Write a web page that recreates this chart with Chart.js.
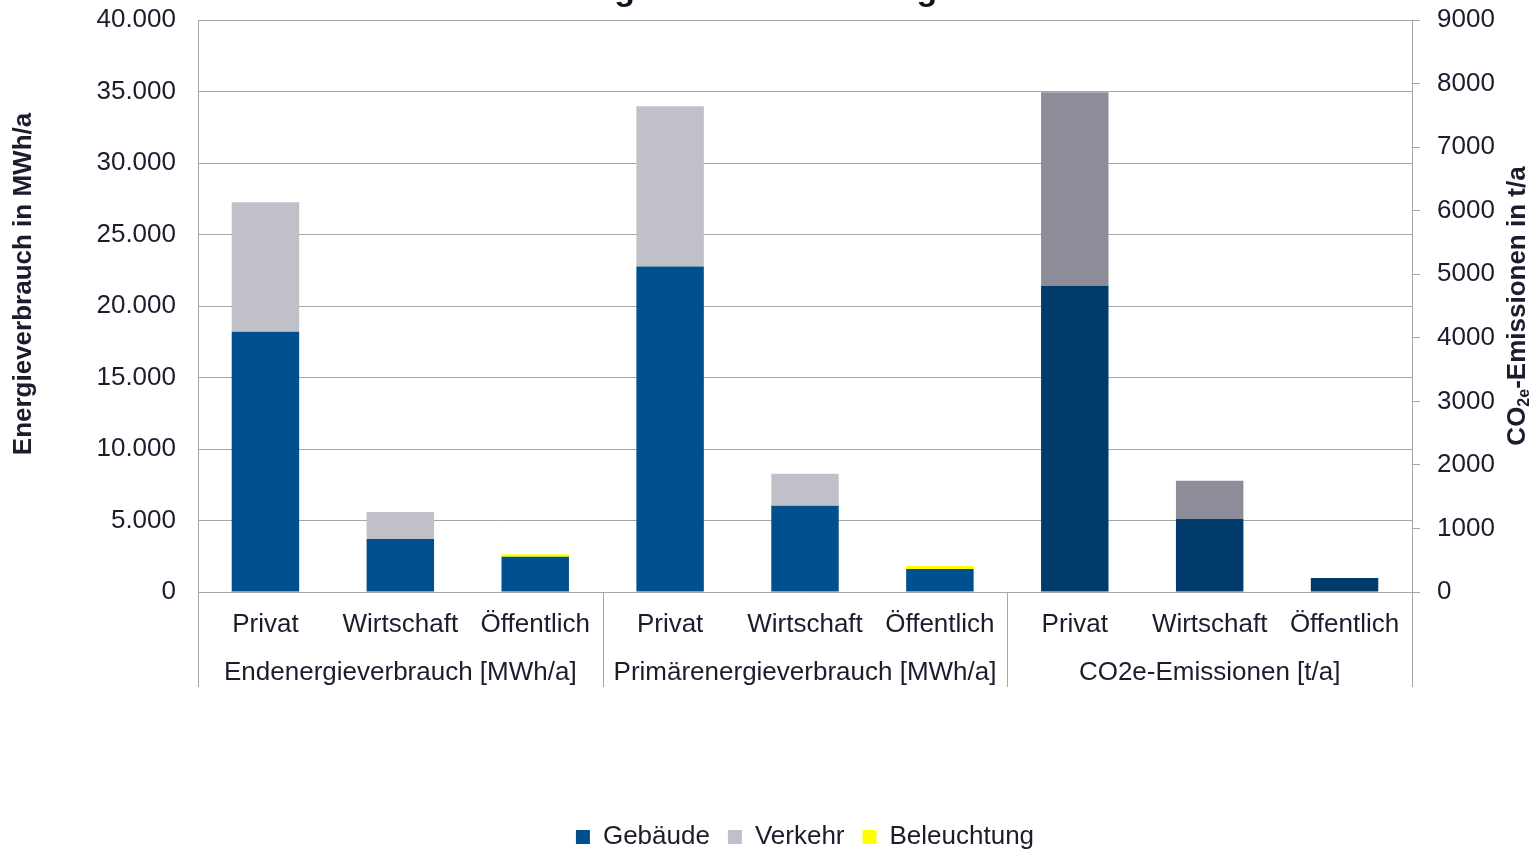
<!DOCTYPE html>
<html>
<head>
<meta charset="utf-8">
<script src="https://cdn.jsdelivr.net/npm/chart.js@4"></script>
<style>
    html, body { margin: 0; padding: 0; overflow: hidden; background: #fff; }
    #wrap { position: absolute; left: 0; top: -40px; width: 1536px; height: 930px; }
</style>
</head>
<body>
<div id="wrap"><canvas id="energyChart"></canvas></div>
<script>
// sub-categories and groups on the x axis
const categories = ['Privat', 'Wirtschaft', 'Öffentlich', 'Privat', 'Wirtschaft', 'Öffentlich', 'Privat', 'Wirtschaft', 'Öffentlich'];
const groups = ['Endenergieverbrauch [MWh/a]', 'Primärenergieverbrauch [MWh/a]', 'CO2e-Emissionen [t/a]'];

// energy values in MWh/a (left axis)
const gebaeudeEnergie = [18200, 3700, 2470, 22770, 6030, 1610, null, null, null];
const verkehrEnergie = [9050, 1900, 0, 11200, 2240, 0, null, null, null];
const beleuchtungEnergie = [0, 0, 170, 0, 0, 210, null, null, null];

// emissions in t/a (right axis)
const gebaeudeCO2 = [null, null, null, null, null, null, 4820, 1150, 220];
const verkehrCO2 = [null, null, null, null, null, null, 3045, 600, 0];
const beleuchtungCO2 = [null, null, null, null, null, null, 0, 0, 0];

const leftTicks = { min: 0, max: 40000, step: 5000 };
const rightTicks = { min: 0, max: 9000, step: 1000 };

const textColor = '#1c1c2c';
const gridColor = '#a6a6a6';
const fontFamily = "'Liberation Sans', Arial, sans-serif";

Chart.defaults.color = textColor;
Chart.defaults.font.family = fontFamily;

// darker shades for the CO2 bars
const pick = (light, dark) => (ctx) => (ctx.dataIndex >= 6 ? dark : light);
const blue = pick('#00508f', '#003b6b');
const grey = pick('#bfc0c8', '#8d8d99');
const yellow = '#ffff00';

// separator lines below the plot and both axis titles (bottom to top)
const extras = {
    id: 'extras',
    afterDraw(chart) {
        const { ctx, chartArea, scales } = chart;
        ctx.save();
        ctx.strokeStyle = gridColor;
        ctx.lineWidth = 1;
        [-0.5, 2.5, 5.5, 8.5].forEach((v) => {
            const px = Math.round(scales.x.getPixelForValue(v)) + 0.5;
            ctx.beginPath();
            ctx.moveTo(px, chartArea.bottom);
            ctx.lineTo(px, chartArea.bottom + 95);
            ctx.stroke();
        });
        ctx.restore();

        const big = 'bold 26px ' + fontFamily;
        const small = 'bold 16px ' + fontFamily;
        const cy = (chartArea.top + chartArea.bottom) / 2;

        // left title
        ctx.save();
        ctx.translate(24, cy - 22);
        ctx.rotate(-Math.PI / 2);
        ctx.fillStyle = textColor;
        ctx.font = big;
        ctx.textAlign = 'center';
        ctx.textBaseline = 'middle';
        ctx.fillText('Energieverbrauch in MWh/a', 0, 0);
        ctx.restore();

        // right title with subscript
        ctx.save();
        ctx.font = big;
        const w1 = ctx.measureText('CO').width;
        const w3 = ctx.measureText('-Emissionen in t/a').width;
        ctx.font = small;
        const w2 = ctx.measureText('2e').width;
        const total = w1 + w2 + w3;
        ctx.translate(1518, cy);
        ctx.rotate(-Math.PI / 2);
        ctx.fillStyle = textColor;
        ctx.textBaseline = 'middle';
        ctx.textAlign = 'left';
        let x = -total / 2;
        ctx.font = big;
        ctx.fillText('CO', x, 0);
        x += w1;
        ctx.font = small;
        ctx.fillText('2e', x, 7);
        x += w2;
        ctx.font = big;
        ctx.fillText('-Emissionen in t/a', x, 0);
        ctx.restore();
    }
};

const ctx = document.getElementById('energyChart').getContext('2d');

const chart = new Chart(ctx, {
    type: 'bar',
    data: {
        labels: categories,
        datasets: [
            { label: 'Gebäude', data: gebaeudeEnergie, backgroundColor: blue, yAxisID: 'y', stack: 's' },
            { label: 'Verkehr', data: verkehrEnergie, backgroundColor: grey, yAxisID: 'y', stack: 's' },
            { label: 'Beleuchtung', data: beleuchtungEnergie, backgroundColor: yellow, yAxisID: 'y', stack: 's' },
            { label: 'Gebäude CO2', data: gebaeudeCO2, backgroundColor: blue, yAxisID: 'y1', stack: 's' },
            { label: 'Verkehr CO2', data: verkehrCO2, backgroundColor: grey, yAxisID: 'y1', stack: 's' },
            { label: 'Beleuchtung CO2', data: beleuchtungCO2, backgroundColor: yellow, yAxisID: 'y1', stack: 's' }
        ]
    },
    options: {
        responsive: true,
        maintainAspectRatio: false,
        animation: false,
        layout: { padding: { bottom: 30 } },
        datasets: {
            bar: { categoryPercentage: 0.5, barPercentage: 1, borderWidth: 0 }
        },
        plugins: {
            title: {
                display: true,
                fullSize: false,
                text: 'Energie- und Treibhausgasbilanz',
                color: '#111122',
                font: { size: 34, weight: 'bold' },
                padding: { top: 10, bottom: 9.2 }
            },
            legend: {
                position: 'bottom',
                fullSize: false,
                labels: {
                    boxWidth: 14,
                    boxHeight: 14,
                    padding: 18,
                    font: { size: 26 },
                    filter: (item) => item.datasetIndex < 3
                }
            },
            tooltip: { enabled: false }
        },
        scales: {
            x: {
                stacked: true,
                grid: { display: false },
                border: { display: false },
                ticks: { padding: 9, font: { size: 26 }, maxRotation: 0, autoSkip: false },
                afterFit: (scale) => { scale.height = 47.2; }
            },
            x2: {
                type: 'category',
                position: 'bottom',
                labels: groups,
                offset: true,
                grid: { display: false },
                border: { display: false },
                ticks: { padding: 10, font: { size: 26 }, maxRotation: 0, autoSkip: false },
                afterFit: (scale) => { scale.height = 166.8; }
            },
            y: {
                stacked: true,
                position: 'left',
                min: leftTicks.min,
                max: leftTicks.max,
                ticks: {
                    stepSize: leftTicks.step,
                    padding: 22,
                    font: { size: 26 },
                    callback: (v) => v.toLocaleString('de-DE')
                },
                grid: { color: gridColor, drawTicks: false },
                border: { display: true, color: gridColor },
                afterFit: (scale) => { scale.width = 198; }
            },
            y1: {
                stacked: true,
                position: 'right',
                min: rightTicks.min,
                max: rightTicks.max,
                ticks: {
                    stepSize: rightTicks.step,
                    padding: 17,
                    font: { size: 26 },
                    callback: (v) => String(v)
                },
                grid: { color: gridColor, drawOnChartArea: false, drawTicks: true, tickLength: 8 },
                border: { display: true, color: gridColor },
                afterFit: (scale) => { scale.width = 124; }
            }
        }
    },
    plugins: [extras]
});
</script>
</body>
</html>
